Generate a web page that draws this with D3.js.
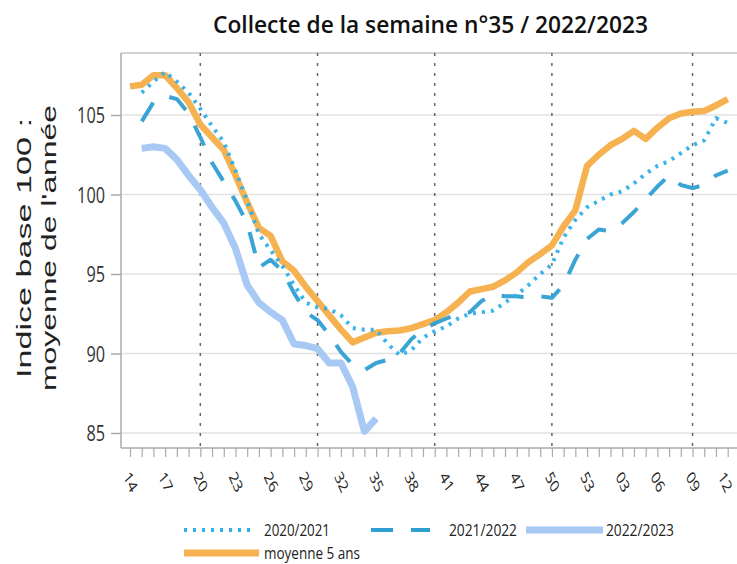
<!DOCTYPE html>
<html>
<head>
<meta charset="utf-8">
<script src="https://cdn.jsdelivr.net/npm/d3@7"></script>
<style>
  body { margin: 0; background: #fff; }
  svg { display: block; }
</style>
</head>
<body>
<script>
// week labels on the x axis (week 14 of one year to week 12 of the next)
const weeks = ["14","15","16","17","18","19","20","21","22","23","24","25","26","27","28","29","30",
  "31","32","33","34","35","36","37","38","39","40","41","42","43","44","45","46","47","48","49","50",
  "51","52","53","01","02","03","04","05","06","07","08","09","10","11","12"];
const tickWeeks = ["14","17","20","23","26","29","32","35","38","41","44","47","50","53","03","06","09","12"];
const gridWeeks = ["20","30","40","50","09"];
const yTicks = [85, 90, 95, 100, 105];

const serie2020 = [null,106.4,107.1,107.7,107.1,106.4,105.4,104.3,103.3,101.5,99.6,97.5,96.5,95.5,94.3,93.2,
  92.9,92.8,92.4,91.6,91.5,91.5,90.6,89.9,90.2,91.0,91.4,91.7,92.2,92.5,92.6,92.7,93.2,93.7,94.3,95.0,95.6,
  97.3,98.4,99.2,99.6,100.0,100.2,100.7,101.3,101.8,102.1,102.6,103.1,103.4,104.8,104.5];
const serie2021 = [null,104.6,105.8,106.2,106.0,105.1,103.6,102.0,100.8,99.6,98.2,95.4,95.9,95.2,93.8,92.6,
  92.1,91.2,90.1,89.3,88.95,89.4,89.6,90.0,90.9,91.5,91.9,92.2,92.5,92.6,93.3,93.7,93.6,93.6,93.5,93.6,93.5,
  94.3,95.9,97.2,97.8,97.7,98.2,98.9,99.7,100.5,101.2,100.6,100.4,100.6,101.2,101.5];
const serie2022 = [null,102.9,103.0,102.9,102.2,101.2,100.3,99.2,98.2,96.6,94.3,93.2,92.6,92.1,90.6,90.5,
  90.3,89.4,89.4,87.9,85.1,85.9];
const moyenne5 = [106.8,106.9,107.5,107.5,106.7,105.8,104.4,103.6,102.8,101.2,99.5,97.9,97.4,95.8,95.2,94.2,
  93.3,92.4,91.5,90.7,91.0,91.3,91.4,91.45,91.6,91.85,92.1,92.6,93.2,93.9,94.05,94.2,94.6,95.1,95.75,96.25,96.8,
  98.0,99.0,101.8,102.5,103.1,103.5,104.0,103.5,104.2,104.8,105.1,105.2,105.25,105.6,106.0];

const W = 737, H = 564;
const plot = { left: 121, right: 745, top: 53, bottom: 448 };

const svg = d3.select("body").append("svg")
  .attr("width", W).attr("height", H);

const x = d3.scalePoint().domain(weeks).range([130, 727.7]);
const y = d3.scaleLinear().domain([85, 105]).range([433, 115]);

// title
svg.append("text")
  .attr("x", 213).attr("y", 33)
  .attr("textLength", 435).attr("lengthAdjust", "spacingAndGlyphs")
  .style("font-family", "'Open Sans', sans-serif")
  .style("font-weight", 600)
  .style("font-size", "24px")
  .style("fill", "#111")
  .text("Collecte de la semaine n°35 / 2022/2023");

// frame: top border
svg.append("line")
  .attr("x1", plot.left).attr("x2", plot.right)
  .attr("y1", plot.top).attr("y2", plot.top)
  .style("stroke", "#c4c4c4").style("stroke-width", 1.5);

// horizontal grid
svg.append("g").selectAll("line")
  .data(yTicks).enter().append("line")
  .attr("x1", plot.left).attr("x2", plot.right)
  .attr("y1", d => y(d)).attr("y2", d => y(d))
  .style("stroke", "#e2e2e2").style("stroke-width", 1.5);

// vertical dotted grid
svg.append("g").selectAll("line")
  .data(gridWeeks).enter().append("line")
  .attr("x1", d => x(d)).attr("x2", d => x(d))
  .attr("y1", plot.top).attr("y2", plot.bottom)
  .style("stroke", "#666").style("stroke-width", 1.5)
  .style("stroke-dasharray", "3,7");

// y axis
const yAxis = svg.append("g")
  .attr("transform", "translate(" + plot.left + ",0)")
  .call(d3.axisLeft(y).tickValues(yTicks).tickSize(10).tickSizeOuter(0));
yAxis.select(".domain").remove();
yAxis.append("line")
  .attr("x1", 0).attr("x2", 0).attr("y1", plot.top).attr("y2", plot.bottom)
  .style("stroke", "#aaa").style("stroke-width", 1.5);
yAxis.selectAll(".tick line").style("stroke", "#aaa").style("stroke-width", 1.5);
yAxis.selectAll(".tick text")
  .attr("x", 0).attr("dy", "0.35em")
  .attr("transform", "translate(-16,0) scale(0.74,1)")
  .style("font-family", "'Open Sans', sans-serif")
  .style("font-size", "22px")
  .style("fill", "#333");

// x axis
const xAxis = svg.append("g")
  .attr("transform", "translate(0," + plot.bottom + ")")
  .call(d3.axisBottom(x).tickSize(9).tickSizeOuter(0)
    .tickFormat(d => tickWeeks.includes(d) ? d : ""));
xAxis.select(".domain").remove();
xAxis.append("line")
  .attr("x1", plot.left).attr("x2", plot.right)
  .style("stroke", "#aaa").style("stroke-width", 1.5);
xAxis.selectAll(".tick line").style("stroke", "#aaa").style("stroke-width", 1.2);
xAxis.selectAll(".tick text")
  .attr("y", 0).attr("dy", "0.35em")
  .attr("text-anchor", "middle")
  .attr("transform", d => "translate(" + (d === "12" ? -3 : 0) + ",34) scale(0.7,1) rotate(58)")
  .style("font-family", "'Open Sans', sans-serif")
  .style("font-size", "18px")
  .style("fill", "#222");

// y axis title
const yTitle = ["Indice base 100 :", "moyenne de l'année"];
const yTitleLen = [260, 286];
const yTitleX = [31, 56];
svg.append("g").selectAll("text")
  .data(yTitle).enter().append("text")
  .attr("text-anchor", "middle")
  .attr("transform", (d, i) => "translate(" + yTitleX[i] + ",248) scale(0.7,1) rotate(-90)")
  .attr("textLength", (d, i) => yTitleLen[i]).attr("lengthAdjust", "spacingAndGlyphs")
  .style("font-family", "'Liberation Sans', Arial, sans-serif")
  .style("font-size", "30px")
  .style("fill", "#222")
  .text(d => d);

// lines
svg.append("clipPath").attr("id", "plotclip")
  .append("rect")
  .attr("x", plot.left).attr("y", plot.top)
  .attr("width", plot.right - plot.left).attr("height", plot.bottom - plot.top);

const line = d3.line()
  .defined(d => d != null)
  .x((d, i) => x(weeks[i]))
  .y(d => y(d));

const series = [
  { name: "moyenne 5 ans", values: moyenne5, color: "#f6b251", width: 6.5, dash: null, op: 1 },
  { name: "2022/2023", values: serie2022, color: "#a7c9f3", width: 7, dash: null, op: 1 },
  { name: "2021/2022", values: serie2021, color: "#2f9fd2", width: 4, dash: "22,18", op: 0.95 },
  { name: "2020/2021", values: serie2020, color: "#2fb0e8", width: 4, dash: "3,6", op: 0.95 }
];

const lines = svg.append("g").attr("clip-path", "url(#plotclip)");
series.forEach(s => {
  lines.append("path")
    .datum(s.values)
    .attr("d", line)
    .style("fill", "none")
    .style("stroke", s.color)
    .style("stroke-width", s.width)
    .style("stroke-linejoin", "round")
    .style("stroke-dasharray", s.dash)
    .style("opacity", s.op);
});

// legend
const legendItems = [
  { name: "2020/2021", color: "#2fb0e8", width: 4, dash: "3,6", x1: 184, x2: 254, tx: 264, tl: 66, y: 530 },
  { name: "2021/2022", color: "#2f9fd2", width: 4, dash: "22,18", x1: 371, x2: 430, tx: 449, tl: 68, y: 530 },
  { name: "2022/2023", color: "#a7c9f3", width: 7, dash: null, x1: 526, x2: 603, tx: 606, tl: 68, y: 530 },
  { name: "moyenne 5 ans", color: "#f6b251", width: 7, dash: null, x1: 184, x2: 259, tx: 264, tl: 96, y: 553 }
];
const legend = svg.append("g");
legendItems.forEach(d => {
  legend.append("text")
    .attr("x", d.tx).attr("y", d.y + 6)
    .attr("textLength", d.tl).attr("lengthAdjust", "spacingAndGlyphs")
    .style("font-family", "'Open Sans', sans-serif")
    .style("font-size", "16px")
    .style("fill", "#222")
    .text(d.name);
  legend.append("line")
    .attr("x1", d.x1).attr("x2", d.x2).attr("y1", d.y).attr("y2", d.y)
    .style("stroke", d.color).style("stroke-width", d.width)
    .style("stroke-dasharray", d.dash);
});
</script>
</body>
</html>
